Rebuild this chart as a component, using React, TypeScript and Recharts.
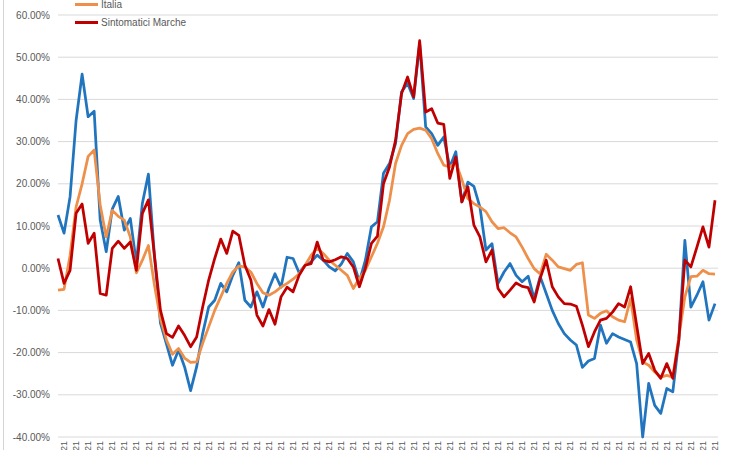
import { LineChart, Line, XAxis, YAxis, CartesianGrid, Legend } from "recharts";

const FONT = "'Liberation Sans', Arial, sans-serif";

// weekly values, percent
const marche = [
  12.6, 8.3, 16.9, 35, 46, 35.9, 37.2, 11.4, 3.9, 14,
  17, 9, 11.8, 1.2, 15.4, 22.3, 3, -13, -18, -23,
  -19.4, -23.4, -29, -23.4, -15.5, -9.2, -7.6, -3.6, -5.6, -1.7,
  1.3, -7.6, -9.2, -5.6, -9.2, -4.8, -1.3, -4.5, 2.6, 2.3,
  -1.1, 0.7, 1.5, 3.1, 1.9, 0.3,
  -0.6, 1.0, 3.5, 1.5, -3.2, 1.9, 9.8, 11, 22.5, 24.8,
  29.5, 41.8, 43.8, 40.2, 53.2, 33.5, 31.9, 29.1, 31.1, 24,
  27.6, 15.7, 20.4, 19.4, 14.5, 4.3, 5.8, -3.6, -0.9, 1.1,
  -1.7, -3.2, -1.9, -7.2, -2, -6, -10, -13.1, -15.5, -17,
  -18.2, -23.5, -22, -21.4, -13.5, -17.8, -15.5, -16.3, -16.9, -17.5,
  -22.6, -40, -27.3, -32.5, -34.4, -28.5, -29.3, -17, 6.6, -9.2,
  -6.4, -3.2, -12.3, -8.4,
];

const italia = [
  -5.2, -5, 3, 14.5, 20, 26.5, 28, 15, 7.4, 13.7,
  12.3, 11.4, 7.4, -1.1, 1.9, 5.4, -4, -12, -17, -20.4,
  -19, -21.3, -22.3, -22.2, -17.8, -13.9, -10, -6.8, -3.6, -0.9,
  0.5, 0.3, -0.9, -3.6, -5.8, -6.4, -5.6, -4.5, -3.6, -2.6,
  -1.3, 0.7, 3.1, 4.7, 3.5, 1.9,
  0.7, -0.5, -1.7, -4.8, -2.4, -0.5, 2.7, 5.9, 9.8, 16.1,
  24.8, 29.1, 31.9, 32.9, 33.2, 32.7, 30.7, 27.2, 24.4, 24,
  25, 21, 16.5, 15.3, 14.5, 13.4, 11, 9.4, 9.6, 8.4,
  7.4, 5, 2.3, -0.1, -1.4, 3.3, 1.9, 0.3, -0.1, -0.5,
  0.9, 1.3, -11.1, -11.9, -10.7, -10.1, -11.5, -12.3, -12.7, -7.2,
  -17, -22.2, -23, -24.6, -25.8, -25.4, -25.8, -16.3, -6.8, -2,
  -1.9, -0.5, -1.3, -1.4,
];

const sintomatici = [
  2.3, -3.6, -0.5, 13, 15.2, 5.9, 8.3, -6, -6.4, 4.7,
  6.4, 4.7, 6.2, -0.5, 13, 16.2, 3, -10, -15.5, -16.4,
  -13.7, -15.9, -18.6, -16.3, -9.2, -2.8, 2.3, 6.9, 3.5, 8.8,
  7.8, 0.7, -2.8, -11.1, -13.7, -9.8, -13.3, -6.8, -4.5, -5.6,
  -1.7, 0.7, 1.1, 6.2, 1.9, 1.5,
  2, 2.7, 2.3, 0.3, -4.4, 0, 5.9, 7.6, 20, 24,
  30.3, 41.4, 45.3, 40.6, 53.9, 37, 37.8, 34.4, 34.1, 21.3,
  26.4, 15.7, 19.3, 10.2, 7.4, 1.5, 4.3, -4.8, -6.8, -5.2,
  -3.5, -4.3, -4.6, -8, -2.4, 1.9, -4.4, -6.8, -8.4, -8.5,
  -9, -13.5, -18.6, -15.1, -12.3, -11.9, -10.4, -8.4, -9.2, -4.4,
  -13.5, -22.6, -20.2, -24.2, -26.1, -22.6, -26.1, -17, 1.9, 0.3,
  5, 9.8, 5, 16.1,
];

const seriesNames = ["Marche", "Italia", "Sintomatici Marche"];
const yTicks = [-40, -30, -20, -10, 0, 10, 20, 30, 40, 50, 60];

// week labels (only their last characters are visible in the picture)
const weeks = marche.map((_, i) => `sett. ${i + 1} 2020/21`);

const data = weeks.map((w, i) => ({
  week: w,
  marche: marche[i],
  italia: italia[i],
  sintomatici: sintomatici[i],
}));

const XTick = ({ x, y, payload }: any) => {
  if (payload.index % 2 === 0) return null;
  return (
    <text
      x={x}
      y={y}
      dy="0.35em"
      transform={`rotate(-90 ${x} ${y})`}
      textAnchor="end"
      fontSize={9}
      fontFamily={FONT}
      fill="#595959"
    >
      {payload.value}
    </text>
  );
};

// keep legend rows in series order (recharts sorts them by name otherwise)
const LegendBox = ({ payload }: any) => {
  const items = [...(payload || [])].sort(
    (a: any, b: any) => seriesNames.indexOf(a.value) - seriesNames.indexOf(b.value)
  );
  return (
    <div style={{ fontFamily: FONT, fontSize: 10, color: "#595959" }}>
      {items.map((p: any) => (
        <div key={p.value} style={{ display: "flex", alignItems: "center", height: 18 }}>
          <span style={{ display: "inline-block", width: 23, height: 3, background: p.color, marginRight: 3 }} />
          {p.value}
        </div>
      ))}
    </div>
  );
};

export default function App() {
  return (
    <div
      style={{
        position: "absolute",
        top: 0,
        left: 0,
        width: 750,
        height: 450,
        overflow: "hidden",
        background: "#fff",
      }}
    >
      <div style={{ position: "absolute", left: 3, top: 0, width: 1, height: 450, background: "#d4d4d4" }} />
      <LineChart
        width={750}
        height={480}
        data={data}
        margin={{ top: 15, right: 32, bottom: 13, left: 0 }}
      >
        <CartesianGrid vertical={false} stroke="#d9d9d9" />
        <XAxis
          dataKey="week"
          interval={0}
          height={30}
          axisLine={false}
          tickLine={false}
          tickSize={4}
          tickMargin={0}
          padding={{ left: 0, right: 3 }}
          tick={<XTick />}
        />
        <YAxis
          width={58}
          domain={[-40, 60]}
          ticks={yTicks}
          axisLine={false}
          tickLine={false}
          tickMargin={2}
          tick={{ fontSize: 10, fontFamily: FONT, fill: "#595959" }}
          tickFormatter={(v: number) => `${v.toFixed(2)}%`}
        />
        <Legend
          layout="horizontal"
          verticalAlign="middle"
          align="center"
          content={<LegendBox />}
          wrapperStyle={{ top: -23, left: 75, width: 200, height: 54 }}
        />
        <Line
          name={seriesNames[0]}
          dataKey="marche"
          stroke="#2175BE"
          strokeWidth={2.75}
          dot={false}
          strokeLinejoin="round"
          isAnimationActive={false}
        />
        <Line
          name={seriesNames[1]}
          dataKey="italia"
          stroke="#EE8F4A"
          strokeWidth={2.75}
          dot={false}
          strokeLinejoin="round"
          isAnimationActive={false}
        />
        <Line
          name={seriesNames[2]}
          dataKey="sintomatici"
          stroke="#C00000"
          strokeWidth={2.75}
          dot={false}
          strokeLinejoin="round"
          isAnimationActive={false}
        />
      </LineChart>
    </div>
  );
}
